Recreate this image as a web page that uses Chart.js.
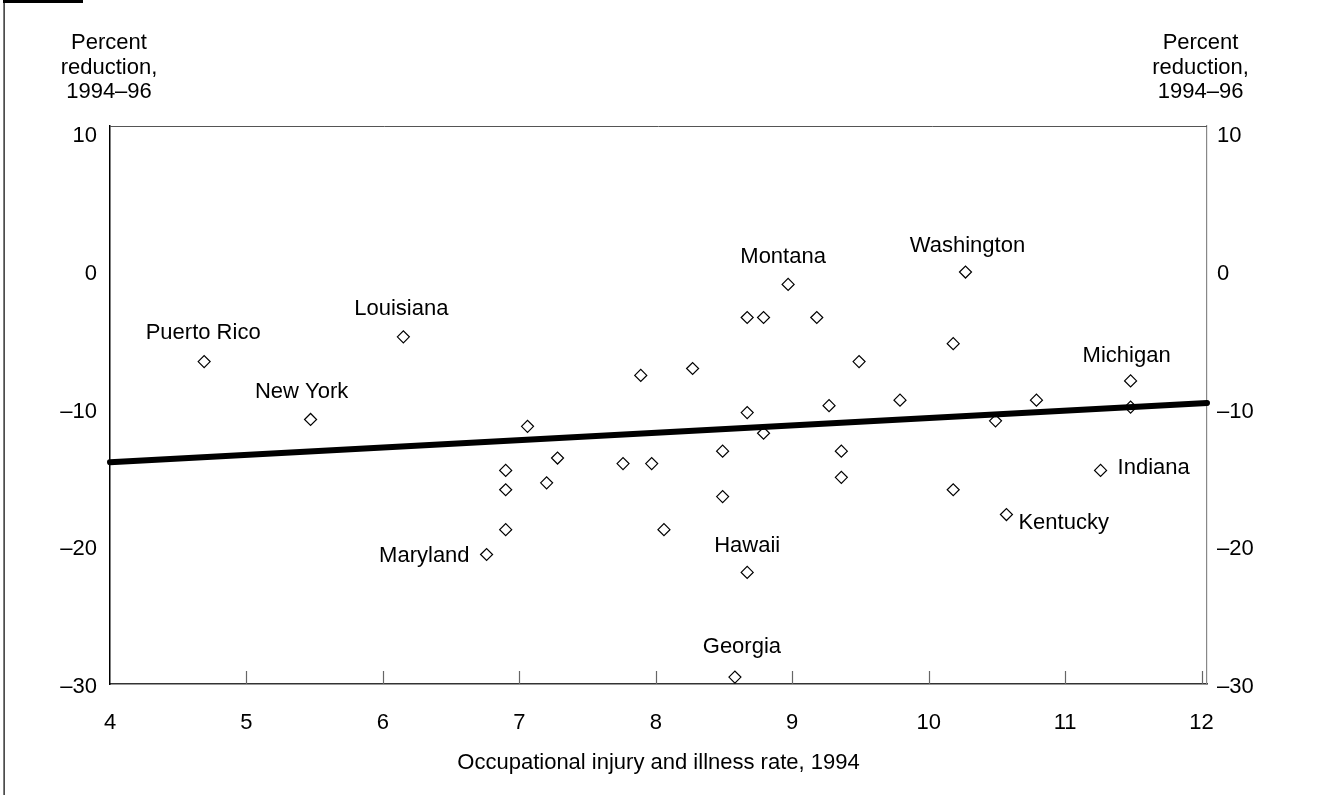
<!DOCTYPE html>
<html>
<head>
<meta charset="utf-8">
<script src="https://cdn.jsdelivr.net/npm/chart.js@4.4.1/dist/chart.umd.min.js"></script>
<style>
  html, body { margin: 0; padding: 0; background: #fff; }
  #wrap { width: 1324px; height: 795px; position: relative; }
  canvas { display: block; }
</style>
</head>
<body>
<div id="wrap"><canvas id="c" width="1324" height="795"></canvas></div>
<script>
// ---------------- DATA ----------------
const states = [
  'Puerto Rico', 'New York', 'Louisiana', 'Maryland', 'Montana', 'Washington',
  'Hawaii', 'Georgia', 'Michigan', 'Indiana', 'Kentucky',
  '', '', '', '', '', '', '', '', '', '', '', '', '', '', '', '', '', '', '', '', '', '', '', '', '', '', '', ''
];
const injuryRate1994 = [
  4.69, 5.47, 6.15, 6.76, 8.97, 10.27,
  8.67, 8.58, 11.48, 11.26, 10.57,
  7.06, 6.90, 6.90, 6.90, 7.20, 7.28, 7.76, 7.89, 7.97, 8.06,
  8.27, 8.49, 8.49, 8.67, 8.67, 8.79, 8.79, 9.18, 9.27, 9.36,
  9.36, 9.49, 9.79, 10.18, 10.18, 10.49, 10.79, 11.48
];
const pctReduction = [
  -6.6, -10.8, -4.8, -20.6, -1.0, -0.1,
  -21.9, -29.5, -8.0, -14.5, -17.7,
  -11.3, -14.5, -15.9, -18.8, -15.4, -13.6, -14.0, -7.6, -14.0, -18.8,
  -7.1, -13.1, -16.4, -3.4, -10.3, -3.4, -11.8, -3.4, -9.8, -13.1,
  -15.0, -6.6, -9.4, -5.3, -15.9, -10.9, -9.4, -9.9
];
const trendX = [4, 12.04];
const trendY = [-13.9, -9.6];
const xTicks = [4, 5, 6, 7, 8, 9, 10, 11, 12];
const yTicks = [-30, -20, -10, 0, 10];
const xTitle = 'Occupational injury and illness rate, 1994';
const yTitleLines = ['Percent', 'reduction,', '1994\u201396'];

// ---------------- STYLE (label placement relative to marker) ----------------
const labelPlacement = {
  'Puerto Rico': { dx: -1, dy: -29, align: 'center' },
  'New York':    { dx: -9, dy: -28, align: 'center' },
  'Louisiana':   { dx: -2, dy: -28, align: 'center' },
  'Maryland':    { dx: -17, dy: 1, align: 'right' },
  'Montana':     { dx: -5, dy: -28, align: 'center' },
  'Washington':  { dx: 2, dy: -26, align: 'center' },
  'Hawaii':      { dx: 0, dy: -26, align: 'center' },
  'Georgia':     { dx: 7, dy: -30, align: 'center' },
  'Michigan':    { dx: -4, dy: -25, align: 'center' },
  'Indiana':     { dx: 17, dy: -3, align: 'left' },
  'Kentucky':    { dx: 12, dy: 8, align: 'left' }
};

const FONT_FAMILY = "'Liberation Sans', Arial, Helvetica, sans-serif";
const FS = 22;
const fmt = v => (v < 0 ? '\u2013' + Math.abs(v) : String(v));

const decoPlugin = {
  id: 'deco',
  beforeDraw(chart) {
    const ctx = chart.ctx;
    ctx.save();
    ctx.fillStyle = '#fff';
    ctx.fillRect(0, 0, chart.width, chart.height);
    ctx.restore();
  },
  afterDraw(chart) {
    const { ctx, chartArea: a, scales } = chart;
    const x = scales.x, y = scales.y;
    ctx.save();
    // top frame line
    ctx.strokeStyle = '#555';
    ctx.lineWidth = 1;
    ctx.beginPath();
    ctx.moveTo(a.left, a.top + 0.5);
    ctx.lineTo(a.right, a.top + 0.5);
    ctx.stroke();
    // inner x tick marks
    ctx.strokeStyle = '#666';
    ctx.lineWidth = 1.2;
    xTicks.forEach(v => {
      if (v === xTicks[0]) return;
      const px = Math.round(x.getPixelForValue(v)) + 0.5;
      ctx.beginPath();
      ctx.moveTo(px, a.bottom);
      ctx.lineTo(px, a.bottom - 13);
      ctx.stroke();
    });
    // y axis titles (top-left and top-right)
    ctx.fillStyle = '#000';
    ctx.font = FS + 'px ' + FONT_FAMILY;
    ctx.textAlign = 'center';
    ctx.textBaseline = 'middle';
    const lx = x.getPixelForValue(xTicks[0]) - 1;
    const rx = x.getPixelForValue(xTicks[xTicks.length - 1]) - 1;
    yTitleLines.forEach((t, i) => {
      const ty = a.top - 83 + i * 24.5;
      ctx.fillText(t, lx, ty);
      ctx.fillText(t, rx, ty);
    });
    // point labels
    const meta = chart.getDatasetMeta(1);
    meta.data.forEach((pt, i) => {
      const name = states[i];
      if (!name) return;
      const p = labelPlacement[name] || { dx: 0, dy: -27, align: 'center' };
      ctx.textAlign = p.align;
      ctx.fillText(name, pt.x + p.dx, pt.y + p.dy);
    });
    // page decorations (left rule and top-left bar)
    ctx.fillStyle = '#000';
    ctx.fillRect(3, 0, 80, 3);
    ctx.fillRect(3.5, 0, 1.2, chart.height);
    ctx.restore();
  }
};

const scatterData = injuryRate1994.map((v, i) => ({ x: v, y: pctReduction[i] }));
const trendData = trendX.map((v, i) => ({ x: v, y: trendY[i] }));

const tickFont = { family: FONT_FAMILY, size: FS };

new Chart(document.getElementById('c'), {
  type: 'scatter',
  data: {
    datasets: [
      {
        type: 'line',
        label: 'Trend',
        data: trendData,
        borderColor: '#000',
        borderWidth: 6,
        borderCapStyle: 'round',
        pointRadius: 0,
        fill: false,
        clip: false,
        order: 0,
        yAxisID: 'y'
      },
      {
        label: 'States',
        data: scatterData,
        pointStyle: 'rectRot',
        pointRadius: 6,
        pointHoverRadius: 6,
        backgroundColor: '#fff',
        borderColor: '#000',
        borderWidth: 1.2,
        order: 1,
        yAxisID: 'y'
      }
    ]
  },
  options: {
    responsive: false,
    animation: false,
    events: [],
    layout: { padding: { top: 126, left: 0, right: 0, bottom: 0 } },
    plugins: { legend: { display: false }, tooltip: { enabled: false }, title: { display: false } },
    scales: {
      x: {
        type: 'linear',
        position: 'bottom',
        min: 4,
        max: 12.04,
        afterBuildTicks: s => { s.ticks = xTicks.map(v => ({ value: v })); },
        afterFit: s => { s.height = 111; },
        ticks: { font: tickFont, color: '#000', padding: 26, maxRotation: 0, autoSkip: false, callback: v => fmt(v) },
        grid: { display: false, drawTicks: false },
        border: { display: true, color: '#333', width: 1.5 },
        title: { display: true, text: xTitle, font: tickFont, color: '#000', padding: { top: 0, bottom: 19 } }
      },
      y: {
        type: 'linear',
        position: 'left',
        min: -30,
        max: 10.5,
        afterBuildTicks: s => { s.ticks = yTicks.map(v => ({ value: v })); },
        afterFit: s => { s.width = 110; },
        ticks: { font: tickFont, color: '#000', padding: 13, labelOffset: 3, callback: v => fmt(v) },
        grid: { display: false, drawTicks: false },
        border: { display: true, color: '#000', width: 1.5 }
      },
      y2: {
        type: 'linear',
        position: 'right',
        min: -30,
        max: 10.5,
        afterBuildTicks: s => { s.ticks = yTicks.map(v => ({ value: v })); },
        afterFit: s => { s.width = 117; },
        ticks: { font: tickFont, color: '#000', padding: 10, labelOffset: 3, callback: v => fmt(v) },
        grid: { display: false, drawTicks: false },
        border: { display: true, color: '#888', width: 1.2 }
      }
    }
  },
  plugins: [decoPlugin]
});
</script>
</body>
</html>
